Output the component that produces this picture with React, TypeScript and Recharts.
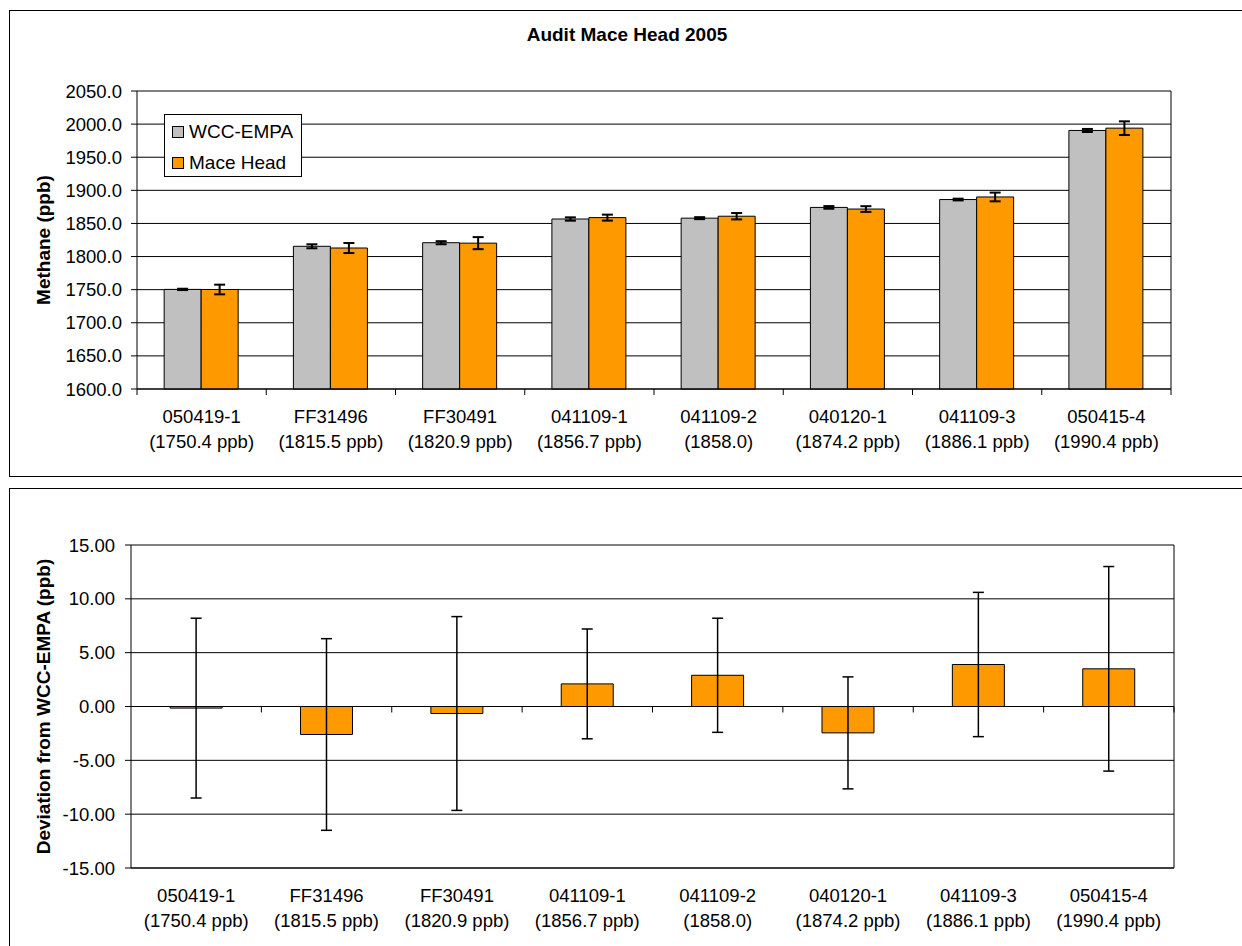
import { Bar, BarChart, CartesianGrid, ErrorBar, ReferenceLine, XAxis, YAxis } from "recharts";

const cylinders = ["050419-1", "FF31496", "FF30491", "041109-1", "041109-2", "040120-1", "041109-3", "050415-4"];
const refLabels = ["(1750.4 ppb)", "(1815.5 ppb)", "(1820.9 ppb)", "(1856.7 ppb)", "(1858.0)", "(1874.2 ppb)", "(1886.1 ppb)", "(1990.4 ppb)"];

const wccEmpa = [1750.4, 1815.5, 1820.9, 1856.7, 1858.0, 1874.2, 1886.1, 1990.4];
const wccEmpaErr = [1.0, 3.0, 2.3, 2.5, 1.5, 2.0, 1.3, 2.3];
const maceHead = [1750.25, 1812.9, 1820.25, 1858.8, 1860.9, 1871.75, 1890.0, 1993.9];
const maceHeadErr = [7.3, 7.6, 9.1, 4.5, 4.8, 4.3, 6.6, 10.3];

const deviation = [-0.15, -2.6, -0.65, 2.1, 2.9, -2.45, 3.9, 3.5];
const deviationErr = [8.35, 8.9, 9.0, 5.1, 5.3, 5.2, 6.7, 9.5];

const methaneTicks = [1600, 1650, 1700, 1750, 1800, 1850, 1900, 1950, 2000, 2050];
const deviationTicks = [-15, -10, -5, 0, 5, 10, 15];
const seriesNames = ["WCC-EMPA", "Mace Head"];

const GREY = "#c0c0c0";
const ORANGE = "#ff9900";
const FONT = "'Liberation Sans', Arial, sans-serif";
const TICK_FONT = 18.5;

const methaneData = cylinders.map((name, i) => ({
  name,
  wcc: wccEmpa[i],
  wccErr: wccEmpaErr[i],
  mace: maceHead[i],
  maceErr: maceHeadErr[i],
}));

const deviationData = cylinders.map((name, i) => ({
  name,
  dev: deviation[i],
  devErr: deviationErr[i],
}));

// two-line category label, optionally with Excel-style ticks between categories
function CylinderTick(props: any) {
  const { x, y, payload, width, visibleTicksCount, boundaryTicks } = props;
  const idx = payload.index ?? 0;
  const half = payload.offset ?? width / visibleTicksCount / 2;
  return (
    <g>
      {boundaryTicks && idx === 0 && (
        <line x1={x - half} x2={x - half} y1={y} y2={y + 6} stroke="#000" />
      )}
      {boundaryTicks && (
        <line x1={x + half} x2={x + half} y1={y} y2={y + 6} stroke="#000" />
      )}
      <text x={x} y={y} textAnchor="middle" fontSize={TICK_FONT} fill="#000">
        <tspan x={x} dy={34}>{payload.value}</tspan>
        <tspan x={x} dy={25}>{refLabels[idx]}</tspan>
      </text>
    </g>
  );
}

function ZeroAxis(props: any) {
  const { x1, x2, y1 } = props;
  const step = (x2 - x1) / cylinders.length;
  return (
    <g>
      <line x1={x1} x2={x2} y1={y1} y2={y1} stroke="#000" />
      {cylinders.map((c, i) => (
        <line key={c} x1={x1 + step * (i + 1)} x2={x1 + step * (i + 1)} y1={y1} y2={y1 + 6} stroke="#000" />
      ))}
    </g>
  );
}

function axisTitle(text: string) {
  return (props: any) => {
    const vb = props.viewBox;
    const cy = vb.y + vb.height / 2;
    return (
      <text
        x={50}
        y={cy}
        transform={`rotate(-90 50 ${cy})`}
        textAnchor="middle"
        fontSize={19}
        fontWeight="bold"
        fill="#000"
      >
        {text}
      </text>
    );
  };
}

export default function App() {
  return (
    <div
      style={{
        position: "absolute",
        left: 0,
        top: 0,
        width: 1242,
        height: 946,
        overflow: "hidden",
        background: "#fff",
        fontFamily: FONT,
      }}
    >
      <div style={{ position: "absolute", left: 9, top: 10, width: 1260, height: 467, boxSizing: "border-box", border: "1px solid #000" }} />
      <div style={{ position: "absolute", left: 9, top: 488, width: 1260, height: 500, boxSizing: "border-box", border: "1px solid #000" }} />

      <div style={{ position: "absolute", top: 0, left: 0 }}>
        <BarChart
          width={1242}
          height={478}
          data={methaneData}
          margin={{ top: 91, right: 70, bottom: 29, left: 57 }}
          barCategoryGap="21%"
          barGap={0}
        >
          <CartesianGrid vertical={false} stroke="#000" />
          <XAxis
            dataKey="name"
            height={60}
            axisLine={{ stroke: "#000" }}
            tickLine={false}
            tickSize={0}
            tickMargin={0}
            interval={0}
            tick={(p: any) => <CylinderTick {...p} boundaryTicks />}
          />
          <YAxis
            width={80}
            domain={[1600, 2050]}
            ticks={methaneTicks}
            interval={0}
            tickFormatter={(v: number) => v.toFixed(1)}
            axisLine={{ stroke: "#000" }}
            tickLine={{ stroke: "#000" }}
            tickSize={6}
            tickMargin={9}
            tick={{ fill: "#000", fontSize: TICK_FONT }}
            label={{ content: axisTitle("Methane (ppb)") }}
          />
          <YAxis yAxisId="right" orientation="right" width={1} tick={false} tickLine={false} axisLine={{ stroke: "#000" }} />
          <Bar dataKey="wcc" name={seriesNames[0]} fill={GREY} stroke="#000" strokeWidth={1} isAnimationActive={false}>
            <ErrorBar dataKey="wccErr" width={5.5} stroke="#000" strokeWidth={2} isAnimationActive={false} />
          </Bar>
          <Bar dataKey="mace" name={seriesNames[1]} fill={ORANGE} stroke="#000" strokeWidth={1} isAnimationActive={false}>
            <ErrorBar dataKey="maceErr" width={5.5} stroke="#000" strokeWidth={2} isAnimationActive={false} />
          </Bar>
        </BarChart>
      </div>

      <div style={{ position: "absolute", top: 478, left: 0 }}>
        <BarChart
          width={1242}
          height={468}
          data={deviationData}
          margin={{ top: 67, right: 67, bottom: 18, left: 51 }}
          barCategoryGap="30%"
        >
          <CartesianGrid vertical={false} stroke="#000" />
          <XAxis
            dataKey="name"
            height={60}
            axisLine={{ stroke: "#000" }}
            tickLine={false}
            tickSize={0}
            tickMargin={0}
            interval={0}
            tick={(p: any) => <CylinderTick {...p} />}
          />
          <YAxis
            width={80}
            domain={[-15, 15]}
            ticks={deviationTicks}
            interval={0}
            tickFormatter={(v: number) => v.toFixed(2)}
            axisLine={{ stroke: "#000" }}
            tickLine={{ stroke: "#000" }}
            tickSize={6}
            tickMargin={10}
            tick={{ fill: "#000", fontSize: TICK_FONT }}
            label={{ content: axisTitle("Deviation from WCC-EMPA (ppb)") }}
          />
          <YAxis yAxisId="right" orientation="right" width={1} tick={false} tickLine={false} axisLine={{ stroke: "#000" }} />
          <ReferenceLine y={0} shape={ZeroAxis} />
          <Bar dataKey="dev" name={seriesNames[1]} fill={ORANGE} stroke="#000" strokeWidth={1} isAnimationActive={false}>
            <ErrorBar dataKey="devErr" width={5.5} stroke="#000" strokeWidth={1.5} isAnimationActive={false} />
          </Bar>
        </BarChart>
      </div>

      <div
        style={{
          position: "absolute",
          left: 0,
          top: 25,
          width: 1254,
          textAlign: "center",
          fontSize: 19,
          lineHeight: "19px",
          fontWeight: "bold",
        }}
      >
        Audit Mace Head 2005
      </div>

      <div
        style={{
          position: "absolute",
          left: 164,
          top: 114,
          width: 138,
          height: 63,
          boxSizing: "border-box",
          border: "1px solid #000",
          background: "#fff",
          paddingTop: 1,
        }}
      >
        {seriesNames.map((s, i) => (
          <div key={s} style={{ display: "flex", alignItems: "center", height: 31, fontSize: 19 }}>
            <span
              style={{
                display: "inline-block",
                width: 12,
                height: 12,
                marginLeft: 7,
                marginRight: 5,
                boxSizing: "border-box",
                border: "1px solid #000",
                background: i === 0 ? GREY : ORANGE,
              }}
            />
            {s}
          </div>
        ))}
      </div>
    </div>
  );
}
